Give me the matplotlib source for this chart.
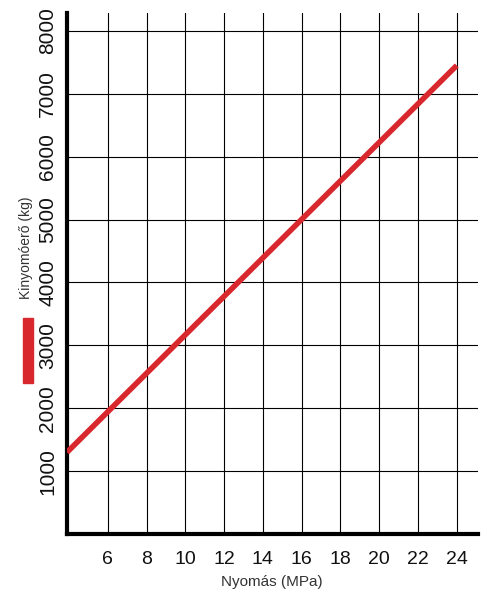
import matplotlib.pyplot as plt
from matplotlib.patches import Rectangle

plt.rcParams["font.family"] = ["Liberation Sans", "DejaVu Sans"]

# Data
pressure_mpa = [3.9, 24]          # Nyomás (MPa)
force_kg = [1300, 7450]           # Kinyomóerő (kg)
x_ticks = [6, 8, 10, 12, 14, 16, 18, 20, 22, 24]
y_ticks = [1000, 2000, 3000, 4000, 5000, 6000, 7000, 8000]

RED = "#d9272e"
INK = "#000000"
LABEL = "#333333"

fig = plt.figure(figsize=(5.0, 6.08), dpi=100)
ax = fig.add_axes([0.134, 0.1217, 0.821, 0.857])

ax.plot(pressure_mpa, force_kg, color=RED, lw=4.0, solid_capstyle="butt",
        zorder=3)

ax.set_xlim(3.9, 25.07)
ax.set_ylim(0, 8285)
ax.set_xticks(x_ticks)
ax.set_yticks(y_ticks)
ax.set_xticklabels([str(v) for v in x_ticks], fontsize=14, color="#111111")
ax.set_yticklabels([str(v) for v in y_ticks], fontsize=15, color="#111111",
                   rotation=90, va="center")
ax.tick_params(axis="x", length=0, pad=12)
ax.tick_params(axis="y", length=0, pad=7)

ax.grid(True, color=INK, lw=0.8)
ax.set_axisbelow(True)

for side in ("top", "right"):
    ax.spines[side].set_visible(False)
for side in ("left", "bottom"):
    ax.spines[side].set_linewidth(3.0)
    ax.spines[side].set_color(INK)

ax.set_xlabel("Nyomás (MPa)", fontsize=11, color=LABEL, labelpad=5)

# y label with red swatch, placed like the reference
fig.text(0.052, 0.592, "Kinyomóerő (kg)", rotation=90, fontsize=10,
         color=LABEL, ha="center", va="center")
fig.patches.append(Rectangle((0.046, 1 - 383 / 608), 0.02, 65 / 608,
                             transform=fig.transFigure, color=RED))

fig.savefig("out.png", dpi=100)
